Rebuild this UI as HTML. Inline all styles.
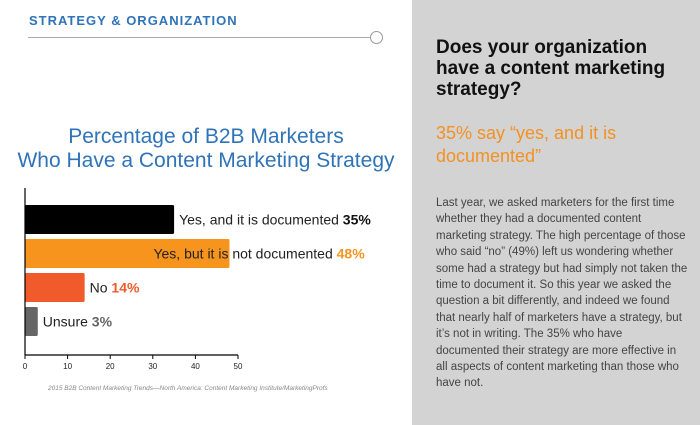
<!DOCTYPE html>
<html><head><meta charset="utf-8"><style>
body{margin:0;width:700px;height:425px;overflow:hidden;background:#fff;font-family:"Liberation Sans",sans-serif;position:relative}
.abs{position:absolute}
</style></head><body>
<div class="abs" style="left:29px;top:13px;font-size:13px;font-weight:bold;color:#2f73b8;letter-spacing:1px">STRATEGY &amp; ORGANIZATION</div>
<div class="abs" style="left:28px;top:37px;width:342px;height:1px;background:#aaa"></div>
<div class="abs" style="left:370px;top:31px;width:11px;height:11px;border:1px solid #999;border-radius:50%;background:#fff"></div>
<div class="abs" style="left:0;width:412px;top:125px;text-align:center;font-size:21px;line-height:24px;color:#2f73b8">Percentage of B2B Marketers<br>Who Have a Content Marketing Strategy</div>
<svg class="abs" style="left:0;top:0" width="412" height="425" id="chart"></svg>
<div class="abs" style="left:48px;top:385px;font-size:6.5px;font-style:italic;color:#888">2015 B2B Content Marketing Trends—North America: Content Marketing Institute/MarketingProfs</div>
<div class="abs" style="left:412px;top:0;width:288px;height:425px;background:#d3d3d3"></div>
<div class="abs" style="left:436px;top:37px;width:250px;font-size:19px;line-height:21px;font-weight:bold;color:#111">Does your organization have a content marketing strategy?</div>
<div class="abs" style="left:436px;top:122px;width:250px;font-size:18px;line-height:23px;color:#f39122">35% say “yes, and it is documented”</div>
<div class="abs" style="left:436px;top:195px;width:252px;font-size:11.5px;line-height:16.4px;color:#444">Last year, we asked marketers for the first time whether they had a documented content marketing strategy. The high percentage of those who said “no” (49%) left us wondering whether some had a strategy but had simply not taken the time to document it. So this year we asked the question a bit differently, and indeed we found that nearly half of marketers have a strategy, but it’s not in writing. The 35% who have documented their strategy are more effective in all aspects of content marketing than those who have not.</div>
<script>
const categories=["Yes, and it is documented","Yes, but it is not documented","No","Unsure"];
const values=[35,48,14,3];
const colors=["#000000","#f7941e","#f15a2b","#666666"];
const valueColors=["#111111","#f7941e","#f15a2b","#666666"];
const ticks=[0,10,20,30,40,50];
const svg=document.getElementById('chart');
const NS="http://www.w3.org/2000/svg";
const x0=25,x1=238,yTop=188,yAxis=355,bandStart=205,band=34,barH=29;
const xs=v=>x0+(v/50)*(x1-x0);
function mk(t,a){const e=document.createElementNS(NS,t);for(const k in a)e.setAttribute(k,a[k]);svg.appendChild(e);return e;}
values.forEach((v,i)=>{
 const y=bandStart+i*band;
 const r=mk('rect',{x:x0,y:y,width:xs(v)-x0,height:barH,fill:colors[i],rx:1.5});
 
 
 const lx=i==1?xs(v)-76:xs(v)+5;
 const t=mk('text',{x:lx,y:y+barH/2+5,'font-size':14,fill:'#222','font-family':'Liberation Sans, sans-serif'});
 
 
 t.textContent=categories[i]+' ';
 const s=document.createElementNS(NS,'tspan');s.setAttribute('font-weight','bold');s.setAttribute('fill',valueColors[i]);s.textContent=v+'%';t.appendChild(s);
});
const ya=mk('line',{x1:x0,y1:yTop,x2:x0,y2:yAxis,stroke:'#000','stroke-width':1.2});


const xa=mk('line',{x1:x0,y1:yAxis,x2:x1,y2:yAxis,stroke:'#000','stroke-width':1.2});


ticks.forEach(tv=>{
 const tk=mk('line',{x1:xs(tv),y1:yAxis,x2:xs(tv),y2:yAxis+4,stroke:'#000'});
 
 
 const tl=mk('text',{x:xs(tv),y:yAxis+14,'font-size':8,'text-anchor':'middle',fill:'#222'});
 
 
 tl.textContent=tv;
});
</script>
</body></html>
